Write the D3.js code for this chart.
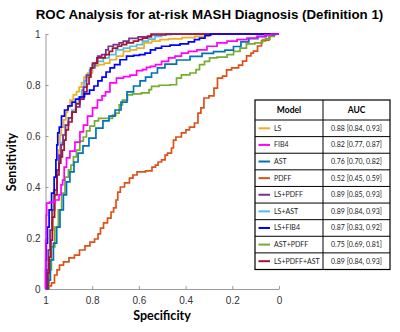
<!DOCTYPE html>
<html><head><meta charset="utf-8">
<script src="https://cdn.jsdelivr.net/npm/d3@7"></script>
<style>html,body{margin:0;padding:0;background:#fff;} svg{display:block;}</style>
</head><body>
<svg id="c" width="400" height="332"></svg>
<script>
// ---- data: [1 - specificity, sensitivity] ----
const models = ["LS","FIB4","AST","PDFF","LS+PDFF","LS+AST","LS+FIB4","AST+PDFF","LS+PDFF+AST"];
const aucLabels = ["0.88 [0.84, 0.93]","0.82 [0.77, 0.87]","0.76 [0.70, 0.82]","0.52 [0.45, 0.59]",
  "0.89 [0.85, 0.93]","0.89 [0.84, 0.93]","0.87 [0.83, 0.92]","0.75 [0.69, 0.81]","0.89 [0.84, 0.93]"];
const yTicks = [0,0.2,0.4,0.6,0.8,1];
const xTicks = [1,0.8,0.6,0.4,0.2,0];

const rocLS = [[0.006,0],[0.013,0.075],[0.019,0.153],[0.028,0.231],[0.036,0.310],[0.045,0.388],[0.054,0.467],[0.060,0.545],[0.064,0.604],[0.071,0.635],[0.084,0.663],[0.091,0.694],[0.098,0.714],[0.112,0.741],[0.126,0.761],[0.140,0.774],[0.148,0.792],[0.161,0.808],[0.169,0.831],[0.191,0.847],[0.212,0.875],[0.241,0.880],[0.262,0.886],[0.289,0.899],[0.319,0.913],[0.348,0.932],[0.375,0.938],[0.405,0.945],[0.439,0.965],[0.469,0.972],[0.512,0.978],[0.542,0.981],[0.627,0.986],[0.653,0.991],[0.683,0.991],[0.713,0.997],[0.717,1],[1,1]];
const rocFIB4 = [[0,0],[0,0.075],[0.002,0.192],[0.004,0.290],[0.006,0.337],[0.028,0.341],[0.054,0.349],[0.062,0.369],[0.071,0.408],[0.076,0.427],[0.084,0.478],[0.096,0.514],[0.113,0.541],[0.139,0.576],[0.156,0.616],[0.169,0.643],[0.191,0.678],[0.212,0.710],[0.233,0.741],[0.251,0.757],[0.263,0.773],[0.289,0.808],[0.319,0.827],[0.349,0.833],[0.375,0.839],[0.405,0.856],[0.426,0.860],[0.439,0.869],[0.460,0.873],[0.482,0.880],[0.512,0.893],[0.542,0.906],[0.567,0.913],[0.597,0.925],[0.627,0.932],[0.670,0.938],[0.713,0.952],[0.756,0.965],[0.799,0.972],[0.842,0.978],[0.884,0.984],[0.927,0.991],[0.953,0.997],[0.983,1],[1,1]];
const rocAST = [[0.009,0],[0.015,0.035],[0.027,0.114],[0.041,0.180],[0.055,0.243],[0.069,0.310],[0.084,0.369],[0.096,0.420],[0.113,0.459],[0.131,0.498],[0.148,0.533],[0.173,0.561],[0.199,0.592],[0.233,0.631],[0.259,0.659],[0.285,0.678],[0.311,0.702],[0.336,0.733],[0.362,0.773],[0.392,0.796],[0.418,0.816],[0.439,0.831],[0.469,0.847],[0.490,0.867],[0.533,0.882],[0.589,0.898],[0.649,0.912],[0.692,0.924],[0.747,0.931],[0.790,0.937],[0.820,0.951],[0.854,0.969],[0.888,0.982],[0.931,0.990],[0.961,0.996],[1,1]];
const rocPDFF = [[0.009,0],[0.019,0.012],[0.032,0.024],[0.045,0.055],[0.054,0.075],[0.066,0.094],[0.088,0.106],[0.113,0.122],[0.135,0.133],[0.156,0.153],[0.182,0.169],[0.199,0.184],[0.221,0.196],[0.229,0.216],[0.242,0.239],[0.255,0.259],[0.276,0.278],[0.285,0.302],[0.298,0.318],[0.306,0.349],[0.313,0.380],[0.328,0.400],[0.349,0.416],[0.370,0.435],[0.379,0.447],[0.405,0.459],[0.452,0.463],[0.460,0.478],[0.482,0.486],[0.482,0.498],[0.512,0.506],[0.512,0.525],[0.533,0.533],[0.546,0.553],[0.550,0.584],[0.567,0.596],[0.597,0.612],[0.606,0.624],[0.627,0.635],[0.649,0.651],[0.657,0.690],[0.674,0.710],[0.683,0.749],[0.717,0.757],[0.726,0.788],[0.747,0.827],[0.769,0.835],[0.782,0.859],[0.812,0.867],[0.842,0.878],[0.846,0.894],[0.876,0.914],[0.884,0.925],[0.897,0.933],[0.919,0.953],[0.931,0.973],[0.953,0.976],[0.961,0.992],[0.996,1],[1,1]];
const rocLSPDFF = [[0.004,0],[0.009,0.075],[0.015,0.153],[0.024,0.231],[0.032,0.310],[0.043,0.388],[0.054,0.467],[0.062,0.525],[0.071,0.565],[0.079,0.604],[0.092,0.643],[0.105,0.671],[0.122,0.694],[0.139,0.714],[0.155,0.753],[0.169,0.792],[0.182,0.839],[0.203,0.867],[0.219,0.886],[0.221,0.906],[0.226,0.913],[0.255,0.919],[0.262,0.938],[0.276,0.952],[0.305,0.958],[0.326,0.965],[0.340,0.972],[0.375,0.983],[0.418,0.989],[0.490,0.996],[0.542,1],[1,1]];
const rocLSAST = [[0.006,0],[0.011,0.075],[0.017,0.153],[0.024,0.231],[0.032,0.310],[0.043,0.388],[0.054,0.467],[0.062,0.518],[0.069,0.573],[0.079,0.604],[0.092,0.643],[0.105,0.671],[0.122,0.702],[0.135,0.729],[0.148,0.753],[0.161,0.780],[0.169,0.816],[0.182,0.839],[0.195,0.859],[0.205,0.880],[0.233,0.893],[0.262,0.906],[0.284,0.919],[0.319,0.938],[0.348,0.945],[0.375,0.952],[0.405,0.958],[0.426,0.972],[0.456,0.980],[0.482,0.991],[0.512,0.997],[0.567,1],[1,1]];
const rocLSFIB4 = [[0,0],[0.002,0.114],[0.005,0.180],[0.012,0.243],[0.019,0.310],[0.033,0.376],[0.041,0.439],[0.048,0.506],[0.049,0.565],[0.056,0.612],[0.062,0.635],[0.075,0.678],[0.088,0.702],[0.105,0.718],[0.122,0.733],[0.135,0.745],[0.156,0.753],[0.178,0.765],[0.199,0.780],[0.216,0.796],[0.233,0.816],[0.251,0.831],[0.268,0.851],[0.285,0.867],[0.306,0.880],[0.332,0.899],[0.362,0.913],[0.392,0.916],[0.413,0.919],[0.439,0.925],[0.460,0.938],[0.482,0.945],[0.512,0.952],[0.555,0.956],[0.597,0.961],[0.627,0.969],[0.649,0.978],[0.670,0.984],[0.696,0.995],[0.717,1],[1,1]];
const rocASTPDFF = [[0.011,0],[0.019,0.075],[0.032,0.165],[0.048,0.243],[0.062,0.310],[0.076,0.376],[0.091,0.439],[0.105,0.467],[0.113,0.486],[0.126,0.518],[0.139,0.545],[0.155,0.580],[0.169,0.596],[0.182,0.620],[0.199,0.639],[0.221,0.659],[0.233,0.669],[0.284,0.669],[0.290,0.682],[0.312,0.690],[0.319,0.722],[0.340,0.741],[0.362,0.761],[0.383,0.765],[0.439,0.769],[0.448,0.782],[0.460,0.795],[0.512,0.799],[0.555,0.801],[0.567,0.827],[0.597,0.840],[0.640,0.847],[0.649,0.860],[0.670,0.880],[0.692,0.893],[0.713,0.906],[0.756,0.909],[0.799,0.919],[0.812,0.932],[0.854,0.945],[0.867,0.961],[0.927,0.965],[0.931,0.978],[0.953,0.981],[0.970,0.991],[0.991,1],[1,1]];
const rocLSPDFFAST = [[0.009,0],[0.012,0.063],[0.019,0.125],[0.027,0.192],[0.033,0.282],[0.045,0.369],[0.054,0.447],[0.062,0.494],[0.069,0.518],[0.076,0.545],[0.084,0.584],[0.091,0.624],[0.105,0.655],[0.122,0.694],[0.139,0.726],[0.156,0.745],[0.173,0.773],[0.182,0.804],[0.191,0.831],[0.198,0.867],[0.205,0.886],[0.241,0.906],[0.269,0.919],[0.276,0.932],[0.298,0.945],[0.319,0.952],[0.332,0.958],[0.362,0.965],[0.391,0.972],[0.405,0.978],[0.426,0.984],[0.448,0.992],[0.456,1],[1,1]];

const curves = [rocLS, rocFIB4, rocAST, rocPDFF, rocLSPDFF, rocLSAST, rocLSFIB4, rocASTPDFF, rocLSPDFFAST];
// styles
const colors = ["#EDB120","#FF00FF","#0072BD","#D95319","#7E2F8E","#4DBEEE","#0000FF","#77AC30","#A2142F"];
const drawOrder = [3,7,2,0,5,4,8,6,1];

// ---- chart ----
const svg = d3.select("#c");
const x = d3.scaleLinear().domain([1,0]).range([45.5,279]);
const y = d3.scaleLinear().domain([0,1]).range([289,34]);

svg.append("text").attr("x",209.5).attr("y",19).attr("text-anchor","middle")
  .style("font-family","Liberation Sans, Arial, sans-serif").style("font-weight","bold").style("font-size","13.3px")
  .attr("fill","#000").text("ROC Analysis for at-risk MASH Diagnosis (Definition 1)");

const fmt = d => d3.format("~g")(d);
const gx = svg.append("g").attr("transform","translate(0,289)")
  .call(d3.axisBottom(x).tickValues(xTicks).tickFormat(fmt).tickSizeInner(-3).tickSizeOuter(0).tickPadding(8));
const gy = svg.append("g").attr("transform","translate(45.5,0)")
  .call(d3.axisLeft(y).tickValues(yTicks).tickFormat(fmt).tickSizeInner(-3).tickSizeOuter(0).tickPadding(5));
[gx,gy].forEach(g=>{
  g.selectAll("path.domain").attr("stroke","#9a9a9a").attr("stroke-width",1);
  g.selectAll(".tick line").attr("stroke","#9a9a9a");
  g.selectAll(".tick text").attr("fill","#333").style("font-family","Liberation Sans, Arial, sans-serif").style("font-size","10px");
});

svg.append("text").attr("x",162).attr("y",320).attr("text-anchor","middle")
  .style("font-family","Lato, sans-serif").style("font-weight","bold").style("font-size","12.5px").text("Specificity");
svg.append("text").attr("transform","translate(16,162) rotate(-90)").attr("text-anchor","middle")
  .style("font-family","Lato, sans-serif").style("font-weight","bold").style("font-size","12.5px").text("Sensitivity");

const line = d3.line().x(d=>x(1-d[0])).y(d=>y(d[1])).curve(d3.curveStep);
const gl = svg.append("g");
drawOrder.forEach(i=>{
  gl.append("path").datum(curves[i]).attr("d",line).attr("fill","none")
    .attr("stroke",colors[i]).attr("stroke-width",1.7).attr("stroke-linejoin","miter");
});

// ---- legend table ----
const tx0 = 255, tx1 = 390, tdiv = 323, ty0 = 100, thead = 120, ty1 = 269.5;
const rowY = d3.scaleBand().domain(models).range([thead, ty1]);
const tg = svg.append("g");
tg.append("rect").attr("x",tx0).attr("y",ty0).attr("width",tx1-tx0).attr("height",ty1-ty0)
  .attr("fill","#fff").attr("stroke","#000").attr("stroke-width",1.2);
tg.append("line").attr("x1",tdiv).attr("x2",tdiv).attr("y1",ty0).attr("y2",ty1).attr("stroke","#000").attr("stroke-width",1);
tg.append("line").attr("x1",tx0).attr("x2",tx1).attr("y1",thead).attr("y2",thead).attr("stroke","#000").attr("stroke-width",1);
models.forEach((m,i)=>{
  const yy = rowY(m);
  if(i>0) tg.append("line").attr("x1",tx0).attr("x2",tx1).attr("y1",yy).attr("y2",yy).attr("stroke","#000").attr("stroke-width",1);
  const cy = yy + rowY.bandwidth()/2;
  tg.append("line").attr("x1",258.5).attr("x2",270).attr("y1",cy).attr("y2",cy).attr("stroke",colors[i]).attr("stroke-width",2);
  tg.append("text").attr("x",274).attr("y",cy).attr("dy","0.35em").style("font-family","Lato, sans-serif").style("font-size","7px").attr("fill","#222").text(m);
  tg.append("text").attr("x",(tdiv+tx1)/2).attr("y",cy).attr("dy","0.35em").attr("text-anchor","middle").style("font-family","Lato, sans-serif").style("font-size","7px").attr("fill","#222").text(aucLabels[i]);
});
tg.append("text").attr("x",(tx0+tdiv)/2).attr("y",(ty0+thead)/2).attr("dy","0.35em").attr("text-anchor","middle")
  .style("font-family","Lato, sans-serif").style("font-weight","bold").style("font-size","8.5px").text("Model");
tg.append("text").attr("x",(tdiv+tx1)/2).attr("y",(ty0+thead)/2).attr("dy","0.35em").attr("text-anchor","middle")
  .style("font-family","Lato, sans-serif").style("font-weight","bold").style("font-size","8.5px").text("AUC");
</script>
</body></html>
